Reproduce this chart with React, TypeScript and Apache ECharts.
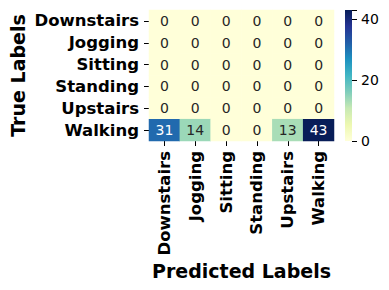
import React, { useEffect, useRef } from "react";
import * as echarts from "echarts";

const trueLabels = ["Downstairs", "Jogging", "Sitting", "Standing", "Upstairs", "Walking"];
const predLabels = ["Downstairs", "Jogging", "Sitting", "Standing", "Upstairs", "Walking"];
const matrix: number[][] = [
  [0, 0, 0, 0, 0, 0],
  [0, 0, 0, 0, 0, 0],
  [0, 0, 0, 0, 0, 0],
  [0, 0, 0, 0, 0, 0],
  [0, 0, 0, 0, 0, 0],
  [31, 14, 0, 0, 13, 43],
];
const vmin = 0;
const vmax = 43;
const colorbarTicks = [0, 20, 40];
const ylgnbu = ["#ffffd9", "#edf8b1", "#c7e9b4", "#7fcdbb", "#41b6c4", "#1d91c0", "#225ea8", "#253494", "#081d58"];

const FONT = "DejaVu Sans";

export default function App() {
  const ref = useRef<HTMLDivElement>(null);
  useEffect(() => {
    if (!ref.current) return;
    const chart = echarts.init(ref.current, null, { renderer: "svg" });
    const data: any[] = [];
    matrix.forEach((row, r) => {
      row.forEach((v, c) => {
        data.push({
          value: [c, r, v],
          label: { color: v / vmax > 0.6 ? "#ffffff" : "#262626" },
        });
      });
    });
    const stops = ylgnbu.map((col, i) => ({ offset: i / (ylgnbu.length - 1), color: col }));
    chart.setOption({
      animation: false,
      backgroundColor: "#ffffff",
      textStyle: { fontFamily: FONT },
      grid: [
        { left: 149, top: 10, width: 185, height: 131 },
        { left: 345, top: 10, width: 7, height: 131 },
      ],
      xAxis: [
        {
          type: "category",
          gridIndex: 0,
          data: predLabels,
          position: "bottom",
          axisLine: { show: false },
          axisTick: { show: true, alignWithLabel: true, interval: 0, length: 5, lineStyle: { color: "#000" } },
          splitLine: { show: false },
          axisLabel: { interval: 0, rotate: 90, margin: 10, fontSize: 16.5, fontWeight: "bold", color: "#000", fontFamily: FONT },
          name: "Predicted Labels",
          nameLocation: "middle",
          nameGap: 120,
          nameTextStyle: { fontSize: 19, fontWeight: "bold", color: "#000", fontFamily: FONT },
        },
        {
          type: "category",
          gridIndex: 1,
          data: ["cb"],
          show: false,
        },
      ],
      yAxis: [
        {
          type: "category",
          gridIndex: 0,
          data: trueLabels,
          inverse: true,
          axisLine: { show: false },
          axisTick: { show: true, alignWithLabel: true, interval: 0, length: 5, lineStyle: { color: "#000" } },
          splitLine: { show: false },
          axisLabel: { interval: 0, margin: 10, fontSize: 16.5, fontWeight: "bold", color: "#000", fontFamily: FONT },
          name: "True Labels",
          nameLocation: "middle",
          nameGap: 122,
          nameRotate: 90,
          nameTextStyle: { fontSize: 19, fontWeight: "bold", color: "#000", fontFamily: FONT },
        },
        {
          type: "value",
          gridIndex: 1,
          position: "right",
          min: vmin,
          max: vmax,
          interval: 20,
          axisLine: { show: false },
          splitLine: { show: false },
          axisTick: { show: true, length: 5, lineStyle: { color: "#000" } },
          axisLabel: {
            margin: 9,
            fontSize: 14,
            color: "#000",
            fontFamily: FONT,
            formatter: (v: number) => (colorbarTicks.includes(v) ? String(v) : ""),
          },
        },
      ],
      visualMap: {
        show: false,
        min: vmin,
        max: vmax,
        dimension: 2,
        seriesIndex: 0,
        inRange: { color: ylgnbu },
      },
      series: [
        {
          type: "heatmap",
          xAxisIndex: 0,
          yAxisIndex: 0,
          data,
          label: { show: true, fontSize: 14, fontFamily: FONT },
          itemStyle: { borderWidth: 0 },
        },
        {
          type: "bar",
          xAxisIndex: 1,
          yAxisIndex: 1,
          data: [vmax],
          barWidth: "100%",
          itemStyle: { color: new echarts.graphic.LinearGradient(0, 1, 0, 0, stops) },
        },
      ],
    });
    return () => chart.dispose();
  }, []);
  return <div ref={ref} style={{ position: "fixed", left: 0, top: 0, width: 389, height: 290 }} />;
}
